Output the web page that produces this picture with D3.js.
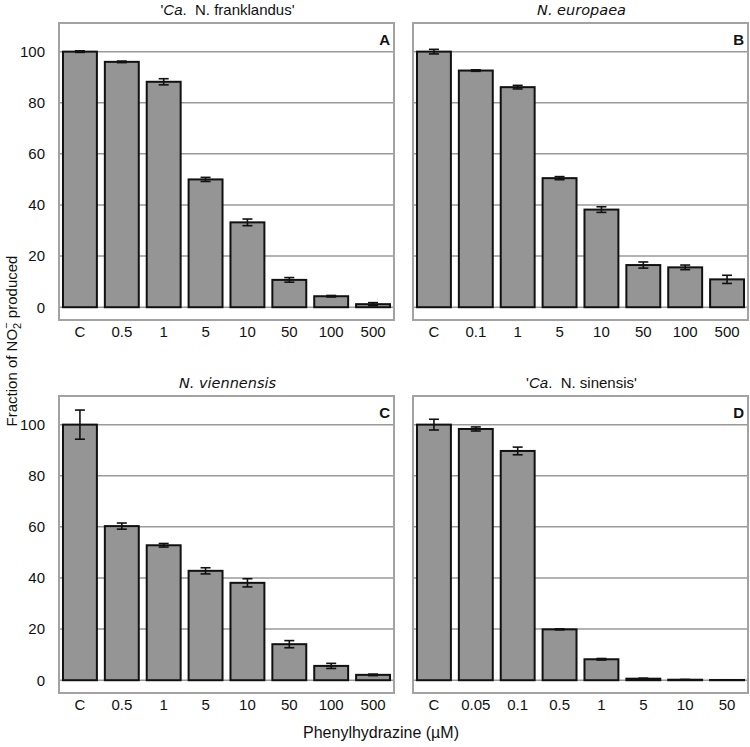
<!DOCTYPE html>
<html><head><meta charset="utf-8">
<script src="https://cdn.jsdelivr.net/npm/d3@7"></script>
<style>body{margin:0;background:#fff}</style>
</head><body>
<script>
const catsA = ["C","0.5","1","5","10","50","100","500"];
const valsA = [100,96,88.2,50,33.2,10.7,4.3,1.2];
const errA  = [0.3,0.3,1.2,0.8,1.3,0.9,0.3,0.6];
const catsB = ["C","0.1","1","5","10","50","100","500"];
const valsB = [100,92.6,86.1,50.5,38.2,16.5,15.6,10.9];
const errB  = [0.9,0.3,0.7,0.6,1.1,1.2,0.9,1.6];
const catsC = ["C","0.5","1","5","10","50","100","500"];
const valsC = [100,60.3,52.8,42.8,38.1,14.1,5.6,2.1];
const errC  = [5.7,1.2,0.7,1.2,1.6,1.4,1.0,0.3];
const catsD = ["C","0.05","0.1","0.5","1","5","10","50"];
const valsD = [100,98.3,89.7,19.9,8.2,0.6,0.2,0.1];
const errD  = [2.1,0.8,1.5,0.2,0.3,0.2,0.1,0.05];
const yTicks = [0,20,40,60,80,100];
const letters = ["A","B","C","D"];

const panels = [
  {cats:catsA, vals:valsA, err:errA, x:59, y:23, letter:letters[0], title:"frank"},
  {cats:catsB, vals:valsB, err:errB, x:413, y:23, letter:letters[1], title:"euro"},
  {cats:catsC, vals:valsC, err:errC, x:59, y:396, letter:letters[2], title:"vien"},
  {cats:catsD, vals:valsD, err:errD, x:413, y:396, letter:letters[3], title:"sin"}
];
const W = 335, H = 297;
const svg = d3.select("body").append("svg").attr("width",750).attr("height",747);
const font = "'Liberation Sans', Arial, sans-serif";

panels.forEach(p => {
  const g = svg.append("g").attr("transform",`translate(${p.x},${p.y})`);
  const x = d3.scaleBand().domain(p.cats).range([0,W]).paddingInner(0.19).paddingOuter(0.095);
  const y = d3.scaleLinear().domain([-5,111.2]).range([H,0]);
  g.selectAll("line.grid").data(yTicks).join("line")
    .attr("x1",0).attr("x2",W).attr("y1",d=>y(d)).attr("y2",d=>y(d))
    .attr("stroke","#9a9a9a").attr("stroke-width",1.5);
  g.append("rect").attr("x",0).attr("y",0).attr("width",W).attr("height",H)
    .attr("fill","none").attr("stroke","#a3a3a3").attr("stroke-width",2);
  const data = p.cats.map((c,i)=>({c, v:p.vals[i], e:p.err[i]}));
  g.selectAll("rect.bar").data(data).join("rect")
    .attr("x",d=>x(d.c)).attr("width",x.bandwidth())
    .attr("y",d=>y(d.v)).attr("height",d=>y(0)-y(d.v))
    .attr("fill","#959595").attr("stroke","#111").attr("stroke-width",2);
  const eg = g.selectAll("g.err").data(data).join("g");
  const cx = d=>x(d.c)+x.bandwidth()/2;
  eg.append("line").attr("x1",cx).attr("x2",cx).attr("y1",d=>y(d.v+d.e)).attr("y2",d=>y(d.v-d.e))
    .attr("stroke","#111").attr("stroke-width",1.6);
  eg.append("line").attr("x1",d=>cx(d)-5).attr("x2",d=>cx(d)+5).attr("y1",d=>y(d.v+d.e)).attr("y2",d=>y(d.v+d.e))
    .attr("stroke","#111").attr("stroke-width",1.6);
  eg.append("line").attr("x1",d=>cx(d)-5).attr("x2",d=>cx(d)+5).attr("y1",d=>y(d.v-d.e)).attr("y2",d=>y(d.v-d.e))
    .attr("stroke","#111").attr("stroke-width",1.6);
  const xa = g.append("g").attr("transform",`translate(0,${H})`)
    .call(d3.axisBottom(x).tickSize(0).tickPadding(6));
  xa.select(".domain").remove();
  xa.selectAll("text").attr("font-family",font).attr("font-size",15).attr("fill","#111");
  if (p.x < 100) {
    const ya = g.append("g").call(d3.axisLeft(y).tickValues(yTicks).tickSize(0).tickPadding(14));
    ya.select(".domain").remove();
    ya.selectAll("text").attr("font-family",font).attr("font-size",15).attr("fill","#111");
  }
  g.append("text").attr("x",W-4).attr("y",22).attr("text-anchor","end")
    .attr("font-family",font).attr("font-weight","bold").attr("font-size",15).attr("fill","#111").text(p.letter);
  const t = g.append("text").attr("x",W/2 + 1).attr("y",-8).attr("text-anchor","middle")
    .attr("font-size",15).attr("fill","#111").attr("xml:space","preserve");
  if (p.title==="frank" || p.title==="sin") {
    t.attr("font-family",font);
    t.append("tspan").text("'");
    t.append("tspan").attr("font-style","italic").text("Ca");
    t.append("tspan").text(p.title==="frank" ? ".  N. franklandus'" : ".  N. sinensis'");
  } else {
    t.attr("font-family","'DejaVu Sans', sans-serif").attr("font-style","italic").attr("font-size",14.5)
      .text(p.title==="euro" ? "N. europaea" : "N. viennensis");
  }
});

svg.append("text").attr("x",381).attr("y",738).attr("text-anchor","middle")
  .attr("font-family",font).attr("font-size",16).attr("fill","#111").text("Phenylhydrazine (µM)");
const yt = svg.append("text").attr("transform","translate(17,341) rotate(-90)").attr("text-anchor","middle")
  .attr("font-family",font).attr("font-size",15).attr("fill","#111");
yt.append("tspan").text("Fraction of NO");
yt.append("tspan").attr("font-size",11).attr("dy",4).text("2");
yt.append("tspan").attr("font-size",11).attr("dx",-6).attr("dy",-11).text("−");
yt.append("tspan").attr("dy",7).text(" produced");
</script>
</body></html>
